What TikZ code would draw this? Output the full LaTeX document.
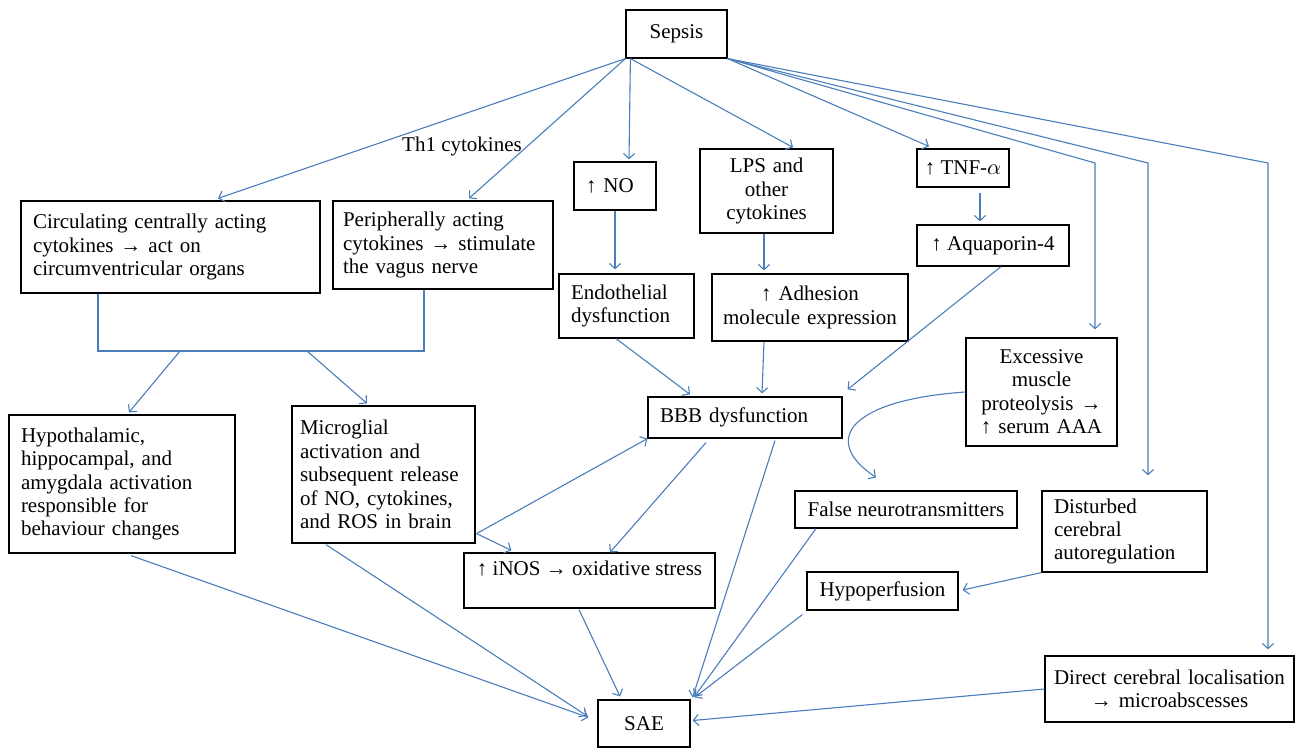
\documentclass[tikz,border=0pt]{standalone}
\usepackage{fontspec}
\setmainfont{Liberation Serif}
\usetikzlibrary{arrows.meta,calc,positioning}
\definecolor{linkblue}{RGB}{74,126,187}

\begin{document}
\begin{tikzpicture}[x=0.5pt,y=-0.5pt,>={Straight Barb[length=2.6pt,width=5.6pt]},
  font=\fontsize{10.5pt}{11.7pt}\selectfont,
  box/.style={draw,line width=0.6pt,inner ysep=2pt},
  cell/.style={box,align=left,inner xsep=6pt},
  mid/.style={box,align=center,inner xsep=3pt},
  tag/.style={box,inner xsep=2pt},
  link/.style={->,draw=linkblue,line width=0.55pt},
  wire/.style={draw=linkblue,line width=0.8pt}]
\useasboundingbox (0,0) rectangle (1296,748);

\node[tag,minimum width=50.5pt,minimum height=24pt] (sepsis) at (676.5,34) {Sepsis};
\node[cell,text width=137.5pt,minimum height=46pt] (circ) at (170.5,247) {Circulating centrally acting\\cytokines → act on\\circumventricular organs};
\node[cell,inner xsep=5pt,text width=100pt,minimum height=44pt] (peri) at (443,245) {Peripherally acting\\cytokines → stimulate\\the vagus nerve};
\node[cell,text width=29pt,minimum height=24pt] (no) at (615,186) {↑ NO};
\node[mid,text width=60.5pt,minimum height=42pt] (lps) at (766.5,191) {LPS and\\other\\cytokines};
\node[tag,minimum width=46pt,minimum height=19pt] (tnf) at (963,168) {↑ TNF-$\alpha$};
\node[tag,minimum width=76pt,minimum height=20.5pt] (aqua) at (993,245.5) {↑ Aquaporin-4};
\node[cell,text width=55.5pt,minimum height=32pt] (endo) at (626.5,306) {Endothelial\\dysfunction};
\node[mid,text width=92pt,minimum height=33.5pt] (adh) at (810,307.5) {↑ Adhesion\\molecule expression};
\node[mid,text width=69.5pt,minimum height=54pt] (exc) at (1041.5,392) {Excessive\\muscle\\proteolysis →\\↑ serum AAA};
\node[cell,text width=85pt,minimum height=20.5pt] (bbb) at (745,417.5) {BBB dysfunction};
\node[cell,text width=101pt,minimum height=69pt] (hyp) at (122,484) {Hypothalamic,\\hippocampal, and\\amygdala activation\\responsible for\\behaviour changes};
\node[cell,inner xsep=4pt,text width=83.5pt,minimum height=68.5pt] (mic) at (383.5,474.5) {Microglial\\activation and\\subsequent release\\of NO, cytokines,\\and ROS in brain};
\node[tag,minimum width=125.5pt,minimum height=27.5pt,text depth=12pt] (inos) at (589.5,580.5) {↑ iNOS → oxidative stress};
\node[tag,minimum width=111pt,minimum height=18.5pt] (false) at (906,509.5) {False neurotransmitters};
\node[cell,text width=70.5pt,minimum height=40.5pt] (dist) at (1124.5,531.5) {Disturbed\\cerebral\\autoregulation};
\node[tag,minimum width=75.5pt,minimum height=19pt] (hypo) at (882.5,591) {Hypoperfusion};
\node[mid,text width=118.5pt,minimum height=33pt] (direct) at (1169.5,689) {Direct cerebral localisation\\→ microabscesses};
\node[tag,minimum width=46pt,minimum height=23.5pt] (sae) at (644,723.5) {SAE};
\node (thone) at (462,146) {Th1 cytokines};

\coordinate (kexc) at (1095,163);
\coordinate (kdis) at (1148,163);
\coordinate (kdir) at (1268,163);
\coordinate (bl) at (98,351);
\coordinate (br) at (424,351);
\coordinate (b1) at (180,351);
\coordinate (b2) at (307,351);
\coordinate (mout) at ($(mic.south east)+(1,-10)$);

\draw[link] (sepsis.south west) -- ($(circ.north)+(47.5,-2)$);
\draw[link] (sepsis.south west) -- ($(peri.north)+(26,-2)$);
\draw[link] ($(sepsis.south west)+(5,0)$) -- ($(no.north)+(14,-2)$);
\draw[link] ($(sepsis.south west)+(5,0)$) -- ($(lps.north)+(26.5,-1)$);
\draw[link] (sepsis.south east) -- ($(tnf.north)+(-34,-2)$);
\draw[link] (sepsis.south east) -- (kexc) -- ($(kexc |- exc.north)+(0,-8)$);
\draw[link] (sepsis.south east) -- (kdis) -- ($(kdis |- dist.north)+(0,-15)$);
\draw[link] (sepsis.south east) -- (kdir) -- ($(kdir |- direct.north)+(0,-6)$);

\draw[link] (no.south) -- ($(endo.north)+(-11.5,-4)$);
\draw[link] ($(lps.south)+(-2.5,0)$) -- ($(adh.north)+(-46,-3)$);
\draw[link] ($(tnf.south)+(17,5)$) -- ($(aqua.north)+(-13,-3)$);
\draw[link] ($(endo.south)+(-10.5,0)$) -- ($(bbb.north)+(-55,-2)$);
\draw[link] ($(adh.south)+(-46,0)$) -- ($(bbb.north)+(17,-3)$);
\draw[link] ($(aqua.south)+(8,0)$) -- ($(bbb.north east)+(5,-7)$);

\draw[wire] (circ.south -| bl) -- (bl) -- (br) -- (peri.south -| br);
\draw[link] (b1) -- ($(hyp.north)+(7,-2)$);
\draw[link] (b2) -- ($(mic.north)+(-16.5,-2)$);

\draw[link] (mout) -- (bbb.south west);
\draw[link] (mout) -- ($(inos.north west)+(48,-2)$);
\draw[link] ($(bbb.south)+(-39,4)$) -- ($(inos.north)+(20.5,0)$);
\draw[link] (exc.west) .. controls (850,400) and (820,440) .. ($(false.north)+(-30,-13)$);
\draw[link] (dist.south west) -- ($(hypo.east)+(4,-1)$);

\draw[link] ($(hyp.south)+(9,2)$) -- ($(sae.west)+(-9,-6)$);
\draw[link] ($(mic.south)+(-57.5,1)$) -- ($(sae.west)+(-11,-8)$);
\draw[link] ($(inos.south)+(-10.5,1)$) -- ($(sae.north)+(-24,-3)$);
\draw[link] ($(bbb.south)+(30,2)$) -- ($(sae.north east)+(2,-2)$);
\draw[link] ($(false.south)+(-90,0)$) -- ($(sae.north east)+(4,-3)$);
\draw[link] ($(hypo.south west)+(-4,4)$) -- ($(sae.north east)+(4,-2)$);
\draw[link] (direct.west) -- ($(sae.east)+(2,-3)$);
\end{tikzpicture}
\end{document}
